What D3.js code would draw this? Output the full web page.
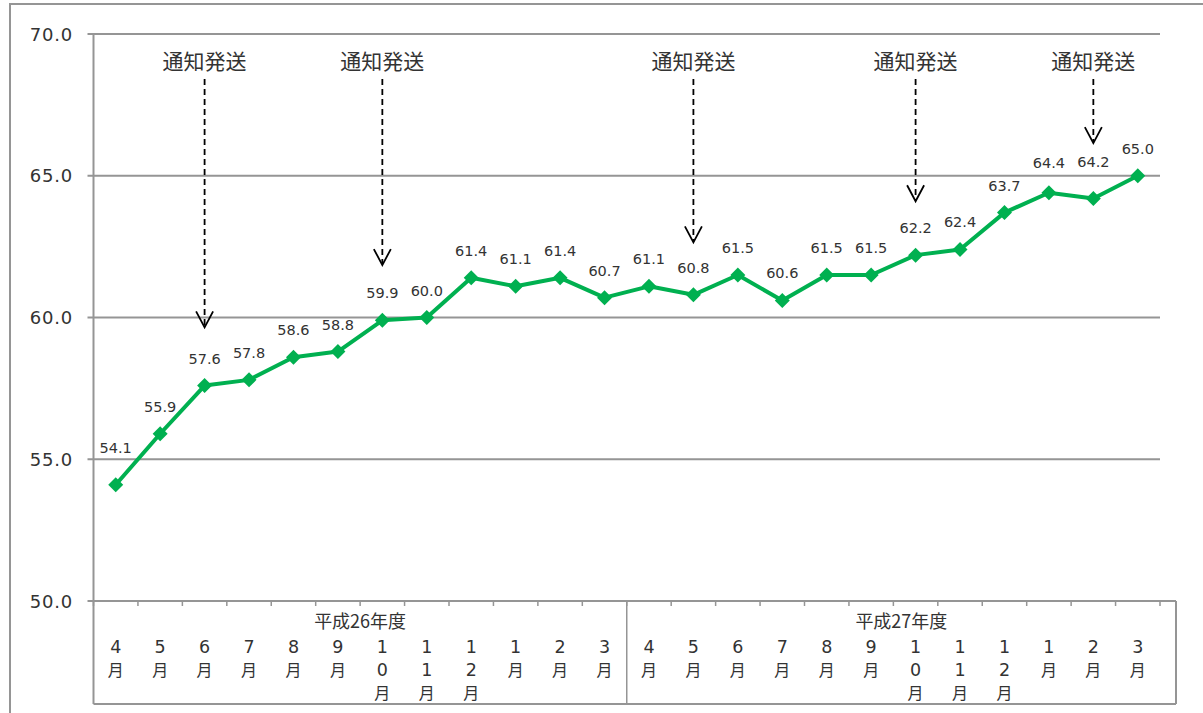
<!DOCTYPE html>
<html lang="ja">
<head>
<meta charset="utf-8">
<script src="https://cdn.jsdelivr.net/npm/d3@7"></script>
<style>
  html, body { margin: 0; padding: 0; background: #fff; }
  svg { display: block; }
  .num { font-family: "DejaVu Sans", Verdana, sans-serif; fill: #333; }
  .jp { font-family: "Noto Sans CJK JP", sans-serif; fill: #333; }
</style>
</head>
<body>
<svg id="chart" width="1203" height="713"></svg>
<script>
// Monthly rate (%), FY H26 April through FY H27 March
const months = ["4", "5", "6", "7", "8", "9", "10", "11", "12", "1", "2", "3",
                "4", "5", "6", "7", "8", "9", "10", "11", "12", "1", "2", "3"];
const rates = [54.1, 55.9, 57.6, 57.8, 58.6, 58.8, 59.9, 60.0, 61.4, 61.1, 61.4, 60.7,
               61.1, 60.8, 61.5, 60.6, 61.5, 61.5, 62.2, 62.4, 63.7, 64.4, 64.2, 65.0];
const fiscalYears = ["平成26年度", "平成27年度"];
const yTicks = [50, 55, 60, 65, 70];

// Notice mailings: month index and the value the arrow points down to
const noticeMonth = [2, 6, 13, 18, 22];
const noticeTip = [59.65, 61.85, 62.65, 64.1, 66.15];
const noticeText = "通知発送";

// Extra lift for a few value labels that sit close to the line
const labelLift = { 0: 10, 21: 3, 22: 9 };

const svg = d3.select("#chart");
const W = 1203, H = 713;
const plot = { left: 93.5, right: 1160, top: 34, bottom: 601 };
const tableBottom = 704, tableRight = 1176;
const gridColor = "#959595";
const green = "#00B050";

const x = d3.scaleBand()
  .domain(d3.range(months.length))
  .range([plot.left, plot.right])
  .paddingInner(0).paddingOuter(0);
const y = d3.scaleLinear().domain([50, 70]).range([plot.bottom, plot.top]);
const cx = i => x(i) + x.bandwidth() / 2;

// Outer frame (runs off the right and bottom edges)
svg.append("rect")
  .attr("x", 10).attr("y", 4)
  .attr("width", W + 40).attr("height", H + 40)
  .attr("fill", "none").attr("stroke", gridColor).attr("stroke-width", 2);

// Horizontal gridlines with left ticks
svg.append("g").selectAll("line")
  .data(yTicks.filter(v => v > 50))
  .join("line")
  .attr("x1", plot.left - 6).attr("x2", plot.right)
  .attr("y1", d => y(d)).attr("y2", d => y(d))
  .attr("stroke", gridColor).attr("stroke-width", 2);

// Y axis labels
svg.append("g").selectAll("text")
  .data(yTicks)
  .join("text")
  .attr("class", "num")
  .attr("x", 73).attr("y", d => y(d) + 6.5)
  .attr("text-anchor", "end")
  .attr("font-size", 18)
  .attr("letter-spacing", 0.8)
  .text(d3.format(".1f"));

// Y axis line, continuing down as the table's left edge
svg.append("line")
  .attr("x1", plot.left).attr("x2", plot.left)
  .attr("y1", plot.top).attr("y2", tableBottom)
  .attr("stroke", gridColor).attr("stroke-width", 2);

// X axis line and table frame
svg.append("line")
  .attr("x1", plot.left - 6).attr("x2", tableRight)
  .attr("y1", plot.bottom).attr("y2", plot.bottom)
  .attr("stroke", gridColor).attr("stroke-width", 2);
svg.append("line")
  .attr("x1", plot.left).attr("x2", tableRight)
  .attr("y1", tableBottom).attr("y2", tableBottom)
  .attr("stroke", gridColor).attr("stroke-width", 2);
svg.append("line")
  .attr("x1", tableRight).attr("x2", tableRight)
  .attr("y1", plot.bottom).attr("y2", tableBottom)
  .attr("stroke", gridColor).attr("stroke-width", 2);

// Category tick marks
svg.append("g").selectAll("line")
  .data(d3.range(months.length + 1))
  .join("line")
  .attr("x1", i => plot.left + i * x.bandwidth())
  .attr("x2", i => plot.left + i * x.bandwidth())
  .attr("y1", plot.bottom).attr("y2", plot.bottom + 5)
  .attr("stroke", gridColor).attr("stroke-width", 1.5);

// Fiscal year divider
const perYear = months.length / fiscalYears.length;
svg.append("g").selectAll("line")
  .data(d3.range(1, fiscalYears.length))
  .join("line")
  .attr("x1", k => x(k * perYear)).attr("x2", k => x(k * perYear))
  .attr("y1", plot.bottom).attr("y2", tableBottom)
  .attr("stroke", gridColor).attr("stroke-width", 1.5);

// Fiscal year labels
svg.append("g").selectAll("text")
  .data(fiscalYears)
  .join("text")
  .attr("class", "jp")
  .attr("x", (d, k) => {
    const a = x(k * perYear);
    const b = k === fiscalYears.length - 1 ? tableRight : x((k + 1) * perYear);
    return (a + b) / 2;
  })
  .attr("y", 628)
  .attr("text-anchor", "middle")
  .attr("font-size", 18)
  .text(d => d);

// Month labels, one character per line inside a single text element
svg.append("g").selectAll("text")
  .data(months)
  .join("text")
  .attr("class", "num")
  .attr("x", (d, i) => cx(i))
  .attr("y", 653)
  .attr("text-anchor", "middle")
  .each(function (d, i) {
    const t = d3.select(this);
    (d + "月").split("").forEach((c, j) => {
      t.append("tspan")
        .attr("class", c === "月" ? "jp" : "num")
        .attr("x", cx(i))
        .attr("dy", j === 0 ? 0 : 23)
        .attr("font-size", c === "月" ? 16 : 17.5)
        .text(c);
    });
  });

// Notice annotations: label and dashed arrow
const notes = svg.append("g").selectAll("g")
  .data(noticeMonth.map((m, k) => ({ m, tip: noticeTip[k] })))
  .join("g");
notes.append("text")
  .attr("class", "jp")
  .attr("x", d => cx(d.m)).attr("y", 69)
  .attr("text-anchor", "middle")
  .attr("font-size", 21)
  .text(noticeText);
notes.append("line")
  .attr("x1", d => cx(d.m)).attr("x2", d => cx(d.m))
  .attr("y1", 79).attr("y2", d => y(d.tip) - 1)
  .attr("stroke", "#000").attr("stroke-width", 1.8)
  .attr("stroke-dasharray", "6,4");
notes.append("path")
  .attr("d", d => {
    const px = cx(d.m), py = y(d.tip);
    return `M${px - 8.5},${py - 16}L${px},${py}L${px + 8.5},${py - 16}`;
  })
  .attr("fill", "none").attr("stroke", "#000").attr("stroke-width", 1.8);

// Rate line
const line = d3.line().x((d, i) => cx(i)).y(d => y(d));
svg.append("path")
  .datum(rates)
  .attr("d", line)
  .attr("fill", "none")
  .attr("stroke", green)
  .attr("stroke-width", 4)
  .attr("stroke-linejoin", "round");

// Diamond markers
svg.append("g").selectAll("path")
  .data(rates)
  .join("path")
  .attr("transform", (d, i) => `translate(${cx(i)},${y(d)})`)
  .attr("d", "M0,-7.5L7.5,0L0,7.5L-7.5,0Z")
  .attr("fill", green);

// Value labels
svg.append("g").selectAll("text")
  .data(rates)
  .join("text")
  .attr("class", "num")
  .attr("x", (d, i) => cx(i))
  .attr("y", (d, i) => y(d) - 22 - (labelLift[i] || 0))
  .attr("text-anchor", "middle")
  .attr("font-size", 14.5)
  .text(d3.format(".1f"));
</script>
</body>
</html>
